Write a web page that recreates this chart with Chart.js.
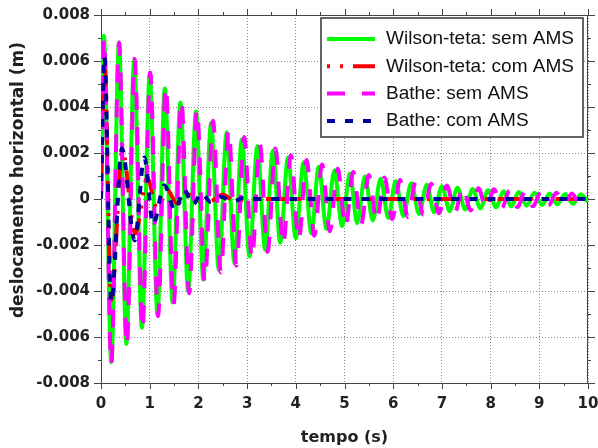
<!DOCTYPE html>
<html>
<head>
<meta charset="utf-8">
<script src="https://cdn.jsdelivr.net/npm/chart.js@4.4.1/dist/chart.umd.min.js"></script>
<style>
  html, body { margin: 0; padding: 0; background: #fff; }
  #wrap { width: 598px; height: 448px; position: relative; }
</style>
</head>
<body>
<div id="wrap"><canvas id="deslocChart"></canvas></div>
<script>
// tick values / labels
const xTickValues = [0, 1, 2, 3, 4, 5, 6, 7, 8, 9, 10];
const xTickLabels = ['0', '1', '2', '3', '4', '5', '6', '7', '8', '9', '10'];
const yTickValues = [-0.008, -0.006, -0.004, -0.002, 0, 0.002, 0.004, 0.006, 0.008];
const yTickLabels = ['-0.008', '-0.006', '-0.004', '-0.002', '0', '0.002', '0.004', '0.006', '0.008'];

const seriesNames = ['Wilson-teta: sem AMS', 'Wilson-teta: com AMS', 'Bathe: sem AMS', 'Bathe: com AMS'];
const xTitle = 'tempo (s)';
const yTitle = 'deslocamento horizontal (m)';

// Wilson-teta sem AMS (peaks and troughs)
const wilsonSemT = [0, 0.06, 0.21, 0.37, 0.52, 0.68, 0.84, 1.00, 1.16, 1.31, 1.47, 1.63, 1.79, 1.95, 2.10, 2.26,
  2.42, 2.58, 2.74, 2.89, 3.05, 3.21, 3.37, 3.53, 3.68, 3.84, 4.00, 4.16, 4.32, 4.47, 4.63, 4.79, 4.95,
  5.11, 5.26, 5.42, 5.58, 5.74, 5.90, 6.05, 6.21, 6.37, 6.53, 6.69, 6.84, 7.00, 7.16, 7.32, 7.48, 7.63,
  7.79, 7.95, 8.11, 8.27, 8.42, 8.58, 8.74, 8.90, 9.06, 9.21, 9.37, 9.53, 9.69, 9.85, 10.0];
const wilsonSemY = [0, 0.0071, -0.0071, 0.0068, -0.0063, 0.0060, -0.0056, 0.0054, -0.0050, 0.0048, -0.0045,
  0.0042, -0.0040, 0.0038, -0.0035, 0.0033, -0.0031, 0.0029, -0.0028, 0.0026, -0.0025, 0.0023, -0.0022,
  0.0021, -0.0019, 0.0018, -0.0017, 0.0016, -0.0015, 0.0014, -0.0013, 0.00125, -0.00118, 0.00111, -0.00105,
  0.00099, -0.00093, 0.00088, -0.00083, 0.00078, -0.00074, 0.00069, -0.00065, 0.00062, -0.00058, 0.00055,
  -0.00052, 0.00049, -0.00046, 0.00043, -0.00041, 0.00038, -0.00036, 0.00034, -0.00032, 0.00030, -0.00029,
  0.00027, -0.00026, 0.00024, -0.00023, 0.00022, -0.00021, 0.00020, -0.00012];

// Wilson-teta com AMS
const wilsonComT = [0, 0.07, 0.21, 0.44, 0.70, 0.95, 1.15, 1.36, 1.56, 1.80, 2.05, 2.30, 2.50, 2.75, 3.05, 10.0];
const wilsonComY = [0, 0.0060, -0.0044, 0.0021, -0.0015, 0.0009, -0.0004, 0.0004, -0.0002, 0.0002, -0.0001,
  -0.00005, 0.0002, -0.0001, 0, 0];

// Bathe sem AMS
const batheSemT = [0, 0.06, 0.21, 0.37, 0.53, 0.69, 0.85, 1.01, 1.17, 1.33, 1.49, 1.65, 1.81, 1.97, 2.13, 2.30,
  2.46, 2.62, 2.78, 2.94, 3.10, 3.26, 3.42, 3.58, 3.74, 3.90, 4.06, 4.22, 4.38, 4.54, 4.70, 4.86, 5.02,
  5.18, 5.34, 5.50, 5.66, 5.82, 5.98, 6.14, 6.30, 6.46, 6.62, 6.78, 6.94, 7.10, 7.27, 7.43, 7.59, 7.75,
  7.91, 8.07, 8.23, 8.39, 8.55, 8.71, 8.87, 9.03, 9.19, 9.35, 9.51, 9.67, 9.83, 9.99];
const batheSemY = [0, 0.0070, -0.0072, 0.0068, -0.0064, 0.0061, -0.0057, 0.0055, -0.0051, 0.0049, -0.0046,
  0.0043, -0.0041, 0.0039, -0.0036, 0.0034, -0.0032, 0.0030, -0.0029, 0.0027, -0.0026, 0.0024, -0.0023,
  0.0022, -0.0020, 0.0019, -0.0018, 0.0017, -0.0016, 0.0015, -0.0014, 0.00132, -0.00124, 0.00117, -0.00111,
  0.00104, -0.00098, 0.00093, -0.00088, 0.00083, -0.00078, 0.00074, -0.00069, 0.00066, -0.00062, 0.00059,
  -0.00056, 0.00053, -0.00050, 0.00047, -0.00044, 0.00042, -0.00039, 0.00037, -0.00035, 0.00033, -0.00032,
  0.00030, -0.00028, 0.00027, -0.00025, 0.00024, -0.00023, 0.00022];

// Bathe com AMS
const batheComT = [0, 0.07, 0.21, 0.43, 0.69, 0.89, 1.07, 1.30, 1.52, 1.71, 1.88, 2.07, 2.25, 2.46, 2.70, 2.92, 3.20, 10.0];
const batheComY = [0, 0.0062, -0.0045, 0.0022, -0.0018, 0.0018, -0.0011, 0.0006, -0.0005, 0.0004, -0.00025,
  0.00025, -0.00013, 0.0001, -0.00012, 0.00004, 0, 0];

const toPoints = (ts, ys) => ts.map((t, i) => ({ x: t, y: ys[i] }));

const tickFont = { family: '"DejaVu Sans", sans-serif', size: 15, weight: 'bold' };
const titleFont = { family: '"DejaVu Sans", sans-serif', size: 16, weight: 'bold' };

// plot frame with major/minor tick marks on all four sides, plus the y title
const framePlugin = {
  id: 'frame',
  beforeDatasetsDraw(chart) {
    const { ctx, chartArea: a, scales } = chart;
    const xs = scales.x, ys = scales.y;
    ctx.save();
    ctx.strokeStyle = '#444';
    ctx.lineWidth = 1;
    ctx.strokeRect(a.left + 0.5, a.top + 0.5, a.right - a.left - 1, a.bottom - a.top);
    ctx.beginPath();
    xTickValues.forEach((v, i) => {
      const marks = [[v, 6]];
      if (i < xTickValues.length - 1) marks.push([v + 0.5, 3]);
      marks.forEach(([mv, len]) => {
        const px = Math.round(xs.getPixelForValue(mv)) + 0.5;
        ctx.moveTo(px, a.bottom); ctx.lineTo(px, a.bottom + len);
        ctx.moveTo(px, a.top); ctx.lineTo(px, a.top - len);
      });
    });
    yTickValues.forEach((v, i) => {
      const marks = [[v, 7]];
      if (i < yTickValues.length - 1) marks.push([v + 0.001, 3]);
      marks.forEach(([mv, len]) => {
        const py = Math.round(ys.getPixelForValue(mv)) + 0.5;
        ctx.moveTo(a.left, py); ctx.lineTo(a.left - len, py);
        ctx.moveTo(a.right, py); ctx.lineTo(a.right + len, py);
      });
    });
    ctx.stroke();
    // y axis title (sits a bit above the middle of the axis)
    ctx.translate(19, 180);
    ctx.rotate(-Math.PI / 2);
    ctx.font = 'bold 17px "DejaVu Sans", sans-serif';
    ctx.fillStyle = '#222';
    ctx.textAlign = 'center';
    ctx.textBaseline = 'middle';
    ctx.fillText(yTitle, 0, 0);
    ctx.restore();
  }
};

// boxed legend in the upper right corner
const legendPlugin = {
  id: 'boxLegend',
  afterDatasetsDraw(chart) {
    const ctx = chart.ctx;
    const box = { x: 321, y: 18, w: 262, h: 119 };
    ctx.save();
    ctx.fillStyle = '#fff';
    ctx.fillRect(box.x, box.y, box.w, box.h);
    ctx.strokeStyle = '#333';
    ctx.lineWidth = 1.5;
    ctx.strokeRect(box.x, box.y, box.w, box.h);
    ctx.font = '19px "Liberation Sans", Arial, sans-serif';
    ctx.textBaseline = 'middle';
    ctx.fillStyle = '#111';
    chart.data.datasets.forEach((ds, i) => {
      const rowY = 39 + i * 27.3;
      ctx.beginPath();
      ctx.setLineDash(ds.borderDash || []);
      ctx.strokeStyle = ds.borderColor;
      ctx.lineWidth = ds.borderWidth;
      ctx.moveTo(327, rowY);
      ctx.lineTo(375, rowY);
      ctx.stroke();
      ctx.setLineDash([]);
      ctx.fillText(ds.label, 386, rowY);
    });
    ctx.restore();
  }
};

const ctx = document.getElementById('deslocChart').getContext('2d');
const deslocChart = new Chart(ctx, {
  type: 'line',
  data: {
    datasets: [{
      label: seriesNames[0],
      data: toPoints(wilsonSemT, wilsonSemY),
      borderColor: '#00ff00',
      borderWidth: 4,
      order: 4
    }, {
      label: seriesNames[1],
      data: toPoints(wilsonComT, wilsonComY),
      borderColor: '#ff0000',
      borderWidth: 4,
      borderDash: [3, 10, 3, 10, 22, 10],
      order: 3
    }, {
      label: seriesNames[2],
      data: toPoints(batheSemT, batheSemY),
      borderColor: '#ff00ff',
      borderWidth: 4,
      borderDash: [18, 17],
      order: 2
    }, {
      label: seriesNames[3],
      data: toPoints(batheComT, batheComY),
      borderColor: '#00009c',
      borderWidth: 4,
      borderDash: [8, 10],
      order: 1
    }]
  },
  options: {
    responsive: true,
    maintainAspectRatio: false,
    animation: false,
    devicePixelRatio: 1,
    layout: { padding: { left: 0, right: 10, top: 15, bottom: 0 } },
    elements: {
      point: { radius: 0, hoverRadius: 0 },
      line: { cubicInterpolationMode: 'monotone', fill: false, borderJoinStyle: 'round' }
    },
    plugins: {
      legend: { display: false },
      tooltip: { enabled: false }
    },
    scales: {
      x: {
        type: 'linear',
        min: 0,
        max: 10,
        afterBuildTicks: scale => { scale.ticks = xTickValues.map(v => ({ value: v })); },
        afterFit: scale => {
          scale.height = 65;
          scale.paddingLeft = 0;
          scale.paddingRight = 0;
        },
        ticks: {
          font: tickFont,
          color: '#222',
          padding: 12,
          maxRotation: 0,
          autoSkip: false,
          callback: (v, i) => xTickLabels[i]
        },
        grid: { color: '#8a8a8a', lineWidth: 1, drawTicks: false },
        border: { display: false, dash: [1, 2] },
        title: {
          display: true,
          text: xTitle,
          font: titleFont,
          color: '#222',
          padding: { top: 0, bottom: 1 }
        }
      },
      y: {
        type: 'linear',
        min: -0.008,
        max: 0.008,
        afterBuildTicks: scale => { scale.ticks = yTickValues.map(v => ({ value: v })); },
        afterFit: scale => {
          scale.width = 101;
          scale.paddingTop = 0;
          scale.paddingBottom = 0;
        },
        ticks: {
          font: tickFont,
          color: '#222',
          padding: 11,
          autoSkip: false,
          callback: (v, i) => yTickLabels[i]
        },
        grid: { color: '#8a8a8a', lineWidth: 1, drawTicks: false },
        border: { display: false, dash: [1, 2] }
      }
    }
  },
  plugins: [framePlugin, legendPlugin]
});
</script>
</body>
</html>
